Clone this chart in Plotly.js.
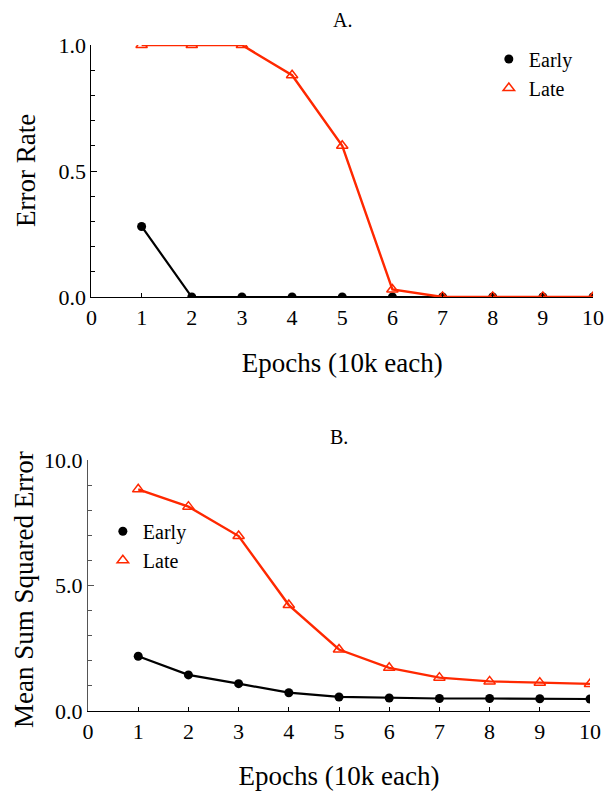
<!DOCTYPE html>
<html>
<head>
<meta charset="utf-8">
<script src="https://cdn.plot.ly/plotly-3.0.1.min.js"></script>
<style>html,body{margin:0;padding:0;background:#fff}#chart{width:605px;height:791px}</style>
</head>
<body>
<div id="chart"></div>
<script>
const epochs = [1, 2, 3, 4, 5, 6, 7, 8, 9, 10];
const errEarly = [0.28, 0, 0, 0, 0, 0, 0, 0, 0, 0];
const errLate = [1.0, 1.0, 1.0, 0.88, 0.60, 0.03, 0, 0, 0, 0];
const mseEarly = [2.18, 1.44, 1.09, 0.73, 0.56, 0.52, 0.50, 0.50, 0.49, 0.48];
const mseLate = [8.83, 8.14, 6.97, 4.22, 2.45, 1.72, 1.33, 1.18, 1.13, 1.08];
const xTickVals = [0, 1, 2, 3, 4, 5, 6, 7, 8, 9, 10];
const seriesNames = ['Early', 'Late'];
const yTitles = ['Error Rate', 'Mean Sum Squared Error'];

const RED = 'rgb(255,40,0)';
const FONT = 'Liberation Serif';

const earlyMarker = {symbol: 'circle', size: 9, color: '#000'};
const lateMarker = {symbol: 'triangle-up-open', size: 10, color: RED, line: {width: 1.5, color: RED}};
const earlyStyle = {mode: 'lines+markers', line: {color: '#000', width: 2.2}, marker: earlyMarker, showlegend: false};
const lateStyle = {mode: 'lines+markers', line: {color: RED, width: 2.4}, marker: lateMarker, showlegend: false};

function legendEntry(name, marker, xa, ya, lg) {
  return {x: [null], y: [null], mode: 'markers', name: name, marker: marker, xaxis: xa, yaxis: ya, legend: lg, showlegend: true};
}

const data = [
  Object.assign({x: epochs, y: errEarly, name: seriesNames[0], xaxis: 'x', yaxis: 'y'}, earlyStyle),
  Object.assign({x: epochs, y: errLate, name: seriesNames[1], xaxis: 'x', yaxis: 'y'}, lateStyle),
  Object.assign({x: epochs, y: mseEarly, name: seriesNames[0], xaxis: 'x2', yaxis: 'y2'}, earlyStyle),
  Object.assign({x: epochs, y: mseLate, name: seriesNames[1], xaxis: 'x2', yaxis: 'y2'}, lateStyle),
  legendEntry(seriesNames[0], earlyMarker, 'x', 'y', 'legend'),
  legendEntry(seriesNames[1], lateMarker, 'x', 'y', 'legend'),
  legendEntry(seriesNames[0], earlyMarker, 'x2', 'y2', 'legend2'),
  legendEntry(seriesNames[1], lateMarker, 'x2', 'y2', 'legend2')
];

function xAxis(domain, anchor, standoff) {
  return {
    domain: domain, anchor: anchor, range: [0, 10], tickmode: 'array', tickvals: xTickVals,
    ticks: 'inside', ticklen: 4, tickcolor: '#000', showgrid: false, zeroline: false,
    showline: true, linecolor: '#000', linewidth: 1.2,
    tickfont: {family: FONT, size: 22, color: '#000'},
    title: {text: 'Epochs (10k each)', font: {family: FONT, size: 27, color: '#000'}, standoff: standoff}
  };
}

function yTitle(text, xpx, ypx) {
  return {text: text, xref: 'paper', yref: 'paper', x: xpx / 605, y: 1 - ypx / 791, showarrow: false,
    textangle: -90, font: {family: FONT, size: 27, color: '#000'}, xanchor: 'center', yanchor: 'middle'};
}

const layout = {
  width: 605, height: 791,
  margin: {l: 0, r: 0, t: 0, b: 0},
  paper_bgcolor: '#fff', plot_bgcolor: '#fff',
  font: {family: FONT, color: '#000'},
  xaxis: xAxis([0.1512, 0.9802], 'y', 24),
  yaxis: {
    domain: [0.6245, 0.9431], anchor: 'x', range: [0, 1], dtick: 0.5, tickformat: '.1f',
    ticks: 'inside', ticklen: 6, tickcolor: '#000', showgrid: false, zeroline: false,
    showline: true, linecolor: '#000', linewidth: 1.2,
    minor: {dtick: 0.1, ticks: 'inside', ticklen: 4, tickcolor: '#000', showgrid: false},
    tickfont: {family: FONT, size: 22, color: '#000'}
  },
  xaxis2: xAxis([0.1455, 0.9752], 'y2', 26),
  yaxis2: {
    domain: [0.1011, 0.4185], anchor: 'x2', range: [0, 10], dtick: 5, tickformat: '.1f',
    ticks: 'inside', ticklen: 6, tickcolor: '#555', showgrid: false, zeroline: false,
    showline: true, linecolor: '#555', linewidth: 1.2,
    minor: {dtick: 1, ticks: 'inside', ticklen: 4, tickcolor: '#555', showgrid: false},
    tickfont: {family: FONT, size: 22, color: '#000'}
  },
  legend: {x: 0.808, y: 0.950, xanchor: 'left', yanchor: 'top', bgcolor: 'rgba(0,0,0,0)',
    font: {family: FONT, size: 20, color: '#000'}, itemwidth: 30, tracegroupgap: 0},
  legend2: {x: 0.17, y: 0.353, xanchor: 'left', yanchor: 'top', bgcolor: 'rgba(0,0,0,0)',
    font: {family: FONT, size: 20, color: '#000'}, itemwidth: 30, tracegroupgap: 0},
  annotations: [
    {text: 'A.', xref: 'paper', yref: 'paper', x: 342 / 605, y: 1 - 20 / 791, showarrow: false,
      font: {family: FONT, size: 20, color: '#000'}, xanchor: 'center', yanchor: 'middle'},
    {text: 'B.', xref: 'paper', yref: 'paper', x: 339 / 605, y: 1 - 437 / 791, showarrow: false,
      font: {family: FONT, size: 20, color: '#000'}, xanchor: 'center', yanchor: 'middle'},
    yTitle(yTitles[0], 26, 171),
    yTitle(yTitles[1], 24, 590)
  ],
  showlegend: true
};

Plotly.newPlot('chart', data, layout, {displayModeBar: false, staticPlot: true});
</script>
</body>
</html>
